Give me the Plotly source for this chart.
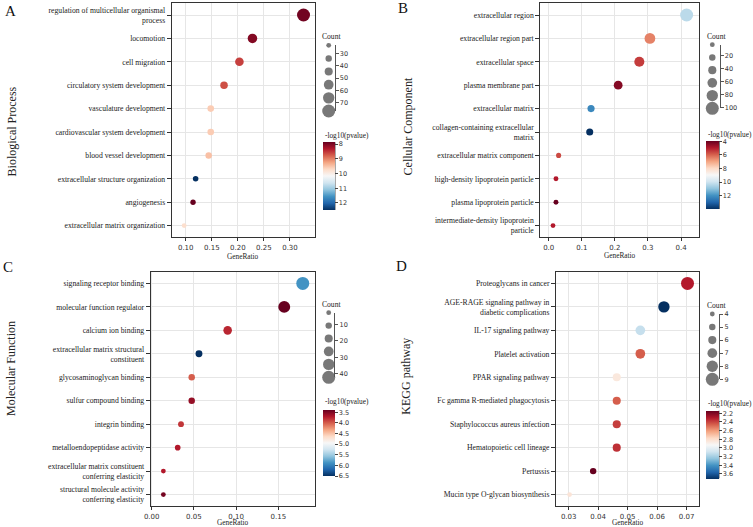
import plotly.graph_objects as go

W, H = 753, 527
SERIF = "Liberation Serif, Times New Roman, serif"
SANS = "DejaVu Sans, sans-serif"

# ---------------- data ----------------
bp_terms = ["regulation of multicellular organismal<br>process", "locomotion", "cell migration",
            "circulatory system development", "vasculature development",
            "cardiovascular system development", "blood vessel development",
            "extracellular structure organization", "angiogenesis",
            "extracellular matrix organization"]
bp_ratio = [0.326, 0.228, 0.203, 0.1735, 0.148, 0.148, 0.144, 0.119, 0.114, 0.097]
bp_count = [77, 54, 48, 41, 35, 35, 34, 28, 27, 23]
bp_logp = [7.95, 8.05, 8.6, 8.7, 9.6, 9.6, 9.5, 12.5, 7.88, 9.8]
bp_xticks = [0.10, 0.15, 0.20, 0.25, 0.30]
bp_count_ticks = [30, 40, 50, 60, 70]
bp_logp_ticks = [8, 9, 10, 11, 12]
bp_logp_labels = ["8", "9", "10", "11", "12"]

cc_terms = ["extracellular region", "extracellular region part", "extracellular space",
            "plasma membrane part", "extracellular matrix",
            "collagen-containing extracellular<br>matrix", "extracellular matrix component",
            "high-density lipoprotein particle", "plasma lipoprotein particle",
            "intermediate-density lipoprotein<br>particle"]
cc_ratio = [0.417, 0.306, 0.274, 0.210, 0.128, 0.124, 0.030, 0.022, 0.022, 0.013]
cc_count = [101, 74, 66, 51, 31, 30, 7, 5, 5, 3]
cc_logp = [10.3, 6.45, 5.45, 4.35, 12.2, 13.96, 5.65, 4.95, 3.95, 4.95]
cc_xticks = [0.0, 0.1, 0.2, 0.3, 0.4]
cc_count_ticks = [20, 40, 60, 80, 100]
cc_logp_ticks = [4, 6, 8, 10, 12]
cc_logp_labels = ["4", "6", "8", "10", "12"]

mf_terms = ["signaling receptor binding", "molecular function regulator", "calcium ion binding",
            "extracellular matrix structural<br>constituent", "glycosaminoglycan binding",
            "sulfur compound binding", "integrin binding", "metalloendopeptidase activity",
            "extracellular matrix constituent<br>conferring elasticity",
            "structural molecule activity<br>conferring elasticity"]
mf_ratio = [0.179, 0.157, 0.090, 0.056, 0.0474, 0.0474, 0.0347, 0.0308, 0.0138, 0.0138]
mf_count = [42, 37, 21, 13, 11, 11, 8, 7, 3, 3]
mf_logp = [5.88, 3.39, 3.76, 6.5, 4.0, 3.58, 3.83, 3.7, 3.7, 3.45]
mf_xticks = [0.00, 0.05, 0.10, 0.15]
mf_count_ticks = [10, 20, 30, 40]
mf_logp_ticks = [3.5, 4.0, 4.5, 5.0, 5.5, 6.0, 6.5]
mf_logp_labels = ["3.5", "4.0", "4.5", "5.0", "5.5", "6.0", "6.5"]

kg_terms = ["Proteoglycans in cancer", "AGE-RAGE signaling pathway in<br>diabetic complications",
            "IL-17 signaling pathway", "Platelet activation", "PPAR signaling pathway",
            "Fc gamma R-mediated phagocytosis", "Staphylococcus aureus infection",
            "Hematopoietic cell lineage", "Pertussis", "Mucin type O-glycan biosynthesis"]
kg_ratio = [0.0703, 0.0623, 0.0543, 0.0543, 0.0463, 0.0463, 0.0463, 0.0463, 0.0383, 0.0303]
kg_count = [9, 8, 7, 7, 6, 6, 6, 6, 5, 4]
kg_logp = [2.3, 3.71, 3.11, 2.45, 2.84, 2.45, 2.38, 2.35, 2.14, 2.82]
kg_xticks = [0.03, 0.04, 0.05, 0.06, 0.07]
kg_count_ticks = [4, 5, 6, 7, 8, 9]
kg_logp_ticks = [2.2, 2.4, 2.6, 2.8, 3.0, 3.2, 3.4, 3.6]
kg_logp_labels = ["2.2", "2.4", "2.6", "2.8", "3.0", "3.2", "3.4", "3.6"]

# RdBu (colorbrewer), blue at low end of the (negated) scale
RDBU = ["#67001f", "#b2182b", "#d6604d", "#f4a582", "#fddbc7", "#f7f7f7",
        "#d1e5f0", "#92c5de", "#4393c3", "#2166ac", "#053061"]
SCALE = [[i / (len(RDBU) - 1), c] for i, c in enumerate(reversed(RDBU))]


def fx(px):
    return px / W


def fy(py):
    return 1 - py / H


panels = [
    dict(terms=bp_terms, ratio=bp_ratio, count=bp_count, logp=bp_logp, xticks=bp_xticks, xfmt=".2f",
         cticks=bp_count_ticks, pticks=bp_logp_ticks, plabels=bp_logp_labels,
         box=(171.7, 315, 3.3, 237.3), xrange=(0.0731, 0.348),
         sleg=(328.7, 334.5, 45.3, 111), ctitle=(331, 37),
         cbar=(322.7, 142.3, 210, 12.3), ptitle=(322.7, 135.3),
         letter=("A", 10, 11), ytitle=("Biological Process", 11.7, 131.7), gtitle=256.5),
    dict(terms=cc_terms, ratio=cc_ratio, count=cc_count, logp=cc_logp, xticks=cc_xticks, xfmt=".1f",
         cticks=cc_count_ticks, pticks=cc_logp_ticks, plabels=cc_logp_labels,
         box=(540.3, 699.3, 3.3, 237.3), xrange=(-0.0254, 0.4553),
         sleg=(712.3, 719.5, 44.7, 108.3), ctitle=(716, 36),
         cbar=(706.3, 141, 209, 13), ptitle=(706.3, 134),
         letter=("B", 402.7, 8.5), ytitle=("Cellular Component", 407.7, 126.7), gtitle=255),
    dict(terms=mf_terms, ratio=mf_ratio, count=mf_count, logp=mf_logp, xticks=mf_xticks, xfmt=".2f",
         cticks=mf_count_ticks, pticks=mf_logp_ticks, plabels=mf_logp_labels,
         box=(150.7, 315, 271.7, 506.3), xrange=(-0.0012, 0.1935),
         sleg=(328.7, 334.3, 312.7, 377.3), ctitle=(331.7, 304),
         cbar=(322.7, 410, 475.7, 11.6), ptitle=(322.7, 401.7),
         letter=("C", 8.3, 266.7), ytitle=("Molecular Function", 11.7, 368.3), gtitle=522.5),
    dict(terms=kg_terms, ratio=kg_ratio, count=kg_count, logp=kg_logp, xticks=kg_xticks, xfmt=".2f",
         cticks=kg_count_ticks, pticks=kg_logp_ticks, plabels=kg_logp_labels,
         box=(556, 699.3, 271.7, 506.3), xrange=(0.0257, 0.0743),
         sleg=(712.3, 719.3, 314, 379.3), ctitle=(716, 305),
         cbar=(706.3, 410.7, 478.3, 12.7), ptitle=(706.3, 403.3),
         letter=("D", 401.7, 265.5), ytitle=("KEGG pathway", 406, 376.7), gtitle=522.5),
]

fig = go.Figure()
layout = dict(width=W, height=H, margin=dict(l=0, r=0, t=0, b=0, autoexpand=False),
              paper_bgcolor="white", plot_bgcolor="white", showlegend=False,
              font=dict(family=SERIF, color="#222"))
annotations = []
shapes = []

D_MIN, D_SPAN = 4.8, 8.2


def msize(vals, cmin, cmax):
    return [D_MIN + D_SPAN * (v - cmin) / (cmax - cmin) for v in vals]


for i, p in enumerate(panels):
    n = i + 1
    ln = i + 5
    xa = "x" if n == 1 else f"x{n}"
    ya = "y" if n == 1 else f"y{n}"
    lxa, lya = f"x{ln}", f"y{ln}"
    x0, x1, y0, y1 = p["box"]
    cmin, cmax = min(p["count"]), max(p["count"])
    vmin, vmax = min(p["logp"]), max(p["logp"])
    cl, ctop, cbot, cthk = p["cbar"]

    fig.add_trace(go.Scatter(
        x=p["ratio"], y=p["terms"], mode="markers", xaxis=xa, yaxis=ya, cliponaxis=False,
        marker=dict(size=msize(p["count"], cmin, cmax), color=[-v for v in p["logp"]],
                    colorscale=SCALE, cmin=-vmax, cmax=-vmin, line=dict(width=0), opacity=1,
                    colorbar=dict(x=fx(cl), xanchor="left", xpad=0, y=fy(ctop), yanchor="top", ypad=0,
                                  len=cbot - ctop, lenmode="pixels", thickness=cthk,
                                  thicknessmode="pixels", outlinewidth=0,
                                  tickvals=[-t for t in p["pticks"]], ticktext=p["plabels"],
                                  ticks="outside", ticklen=3, tickcolor="#444",
                                  tickfont=dict(family=SANS, size=6.5, color="#333"))),
    ))
    layout["xaxis" if n == 1 else f"xaxis{n}"] = dict(
        domain=[fx(x0), fx(x1)], range=list(p["xrange"]), anchor=ya, automargin=False,
        tickvals=p["xticks"], tickformat=p["xfmt"], ticks="outside", ticklen=3, tickcolor="#333",
        tickfont=dict(family=SANS, size=7, color="#333"), showline=True, linecolor="#333",
        linewidth=1, mirror=True, showgrid=True, gridcolor="#e6e6e6", gridwidth=1, zeroline=False)
    layout["yaxis" if n == 1 else f"yaxis{n}"] = dict(
        domain=[fy(y1), fy(y0)], anchor=xa, type="category", categoryorder="array", automargin=False,
        categoryarray=p["terms"], range=[len(p["terms"]) - 0.5, -0.5],
        ticks="outside", ticklen=4, tickcolor="#333",
        tickfont=dict(family=SERIF, size=7.7, color="#222"), showline=True, linecolor="#333",
        linewidth=1, mirror=True, showgrid=True, gridcolor="#e6e6e6", gridwidth=1, zeroline=False)

    # size legend
    cx, ax, lt, lb = p["sleg"]
    nleg = 6
    legvals = [cmin + (cmax - cmin) * k / (nleg - 1) for k in range(nleg)]
    fig.add_trace(go.Scatter(
        x=[cx - (ax - 14)] * nleg, y=legvals, mode="markers", xaxis=lxa, yaxis=lya,
        cliponaxis=False, hoverinfo="skip",
        marker=dict(size=msize(legvals, cmin, cmax), color="#3f3f3f", line=dict(width=0))))
    layout[f"xaxis{ln}"] = dict(domain=[fx(ax - 14), fx(ax)], range=[0, 14], anchor=lya,
                                visible=False, fixedrange=True, automargin=False)
    layout[f"yaxis{ln}"] = dict(domain=[fy(lb), fy(lt)], range=[cmax, cmin], anchor=lxa,
                                side="right", showline=True, linecolor="#555", linewidth=1,
                                ticks="outside", ticklen=3, tickcolor="#555", automargin=False,
                                tickvals=p["cticks"], showgrid=False, zeroline=False,
                                tickfont=dict(family=SANS, size=6.5, color="#333"))
    # line along colorbar right edge
    shapes.append(dict(type="line", xref="paper", yref="paper", x0=fx(cl + cthk), x1=fx(cl + cthk),
                       y0=fy(ctop), y1=fy(cbot), line=dict(color="#555", width=1)))

    annotations += [
        dict(text=p["letter"][0], x=fx(p["letter"][1]), y=fy(p["letter"][2]), xref="paper", yref="paper",
             showarrow=False, xanchor="center", yanchor="middle", font=dict(family=SERIF, size=15, color="#111")),
        dict(text=p["ytitle"][0], x=fx(p["ytitle"][1]), y=fy(p["ytitle"][2]), xref="paper", yref="paper",
             showarrow=False, textangle=-90, xanchor="center", yanchor="middle",
             font=dict(family=SERIF, size=12, color="#222")),
        dict(text="GeneRatio", x=fx((x0 + x1) / 2), y=fy(p["gtitle"]), xref="paper", yref="paper",
             showarrow=False, xanchor="center", yanchor="middle", font=dict(family=SERIF, size=7.3, color="#222")),
        dict(text="Count", x=fx(p["ctitle"][0]), y=fy(p["ctitle"][1]), xref="paper", yref="paper",
             showarrow=False, xanchor="center", yanchor="middle", font=dict(family=SERIF, size=7.6, color="#222")),
        dict(text="-log10(pvalue)", x=fx(p["ptitle"][0]), y=fy(p["ptitle"][1]), xref="paper", yref="paper",
             showarrow=False, xanchor="left", yanchor="middle", font=dict(family=SERIF, size=7.3, color="#222")),
    ]

layout["annotations"] = annotations
layout["shapes"] = shapes
fig.update_layout(**layout)
fig.write_html("out.html", config={"displayModeBar": False},
               post_script="document.body.style.margin='0';document.body.style.padding='0';")
